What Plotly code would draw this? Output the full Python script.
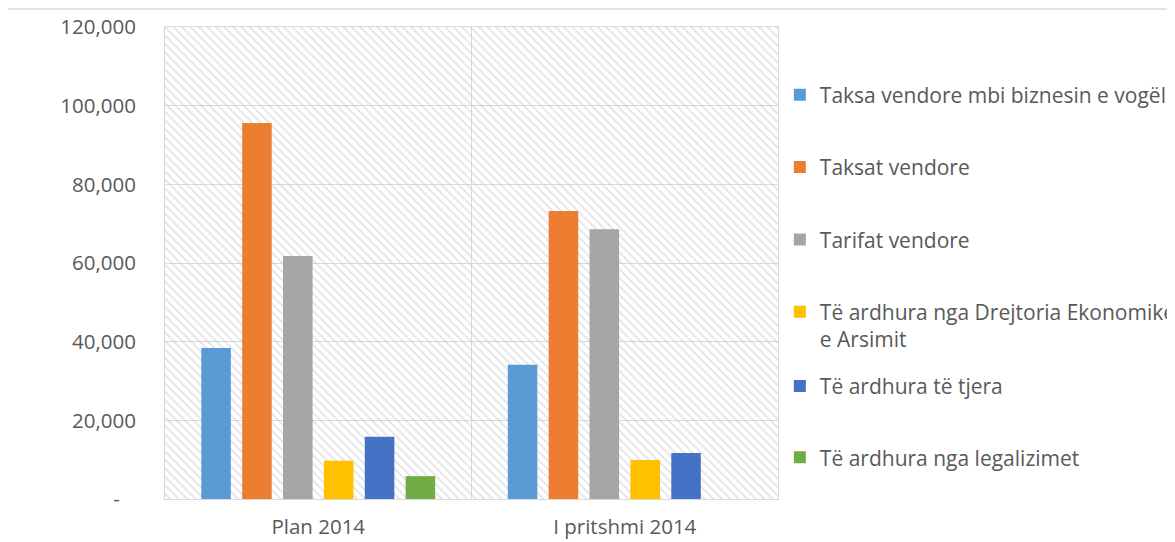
import plotly.graph_objects as go

# te dhenat
kategorite = ['Plan 2014', 'I pritshmi 2014']
seri_emrat = [
    'Taksa vendore mbi biznesin e vogël',
    'Taksat vendore',
    'Tarifat vendore',
    'Të ardhura nga Drejtoria Ekonomike<br>e Arsimit',
    'Të ardhura të tjera',
    'Të ardhura nga legalizimet',
]
taksa_biznes = [38400, 34100]
taksat_vendore = [95600, 73200]
tarifat_vendore = [61800, 68600]
drejtoria_arsimit = [9700, 9900]
te_tjera = [15800, 11700]
legalizimet = [5800, 0]
ngjyrat = ['#5B9BD5', '#ED7D31', '#A5A5A5', '#FFC000', '#4472C4', '#70AD47']

y_ticks = [0, 20000, 40000, 60000, 80000, 100000, 120000]
y_ticktext = ['-\u00a0\u00a0\u00a0', '20,000', '40,000', '60,000', '80,000', '100,000', '120,000']

seri = [taksa_biznes, taksat_vendore, tarifat_vendore, drejtoria_arsimit, te_tjera, legalizimet]
legjenda = ['legend', 'legend', 'legend', 'legend', 'legend2', 'legend2']

fig = go.Figure()

# sfondi me vija diagonale (ne boshtet baze, nen shtyllat)
fig.add_trace(go.Bar(
    x=[0.5], y=[1], width=[1], xaxis='x', yaxis='y', showlegend=False, hoverinfo='skip',
    marker=dict(color='rgba(0,0,0,0)', line=dict(width=0),
                pattern=dict(shape='\\', fgcolor='#c8c8c8', size=6, solidity=0.3, fillmode='overlay')),
))

for i, (emri, vlerat) in enumerate(zip(seri_emrat, seri)):
    fig.add_trace(go.Bar(
        x=kategorite, y=vlerat, name=emri, xaxis='x2', yaxis='y2',
        marker=dict(color=ngjyrat[i], line=dict(width=0)),
        legendgroup='g%d' % i, legend=legjenda[i],
    ))

gri = '#595959'
fonti = 'Open Sans, sans-serif'
fig.update_layout(
    width=1175, height=542,
    margin=dict(l=157, r=405, t=19, b=51, autoexpand=False),
    paper_bgcolor='white', plot_bgcolor='white',
    font=dict(family=fonti, size=20, color=gri),
    barmode='group', bargap=0.2, bargroupgap=0.277,
    xaxis=dict(range=[0, 1], visible=False, showgrid=False, fixedrange=True),
    yaxis=dict(range=[0, 1], visible=False, showgrid=False, fixedrange=True),
    xaxis2=dict(overlaying='x', anchor='y2', side='bottom', tickson='boundaries',
                showgrid=True, gridcolor='#d9d9d9', gridwidth=1,
                showline=True, linecolor='#d9d9d9', mirror=True, ticks='', ticklabelstandoff=9,
                tickfont=dict(size=20.5, color=gri)),
    yaxis2=dict(overlaying='y', anchor='x2', range=[0, 120000], tickvals=y_ticks, ticktext=y_ticktext,
                showgrid=True, gridcolor='#d9d9d9', gridwidth=1, zeroline=False,
                showline=True, linecolor='#d9d9d9', mirror=True, ticks='', ticklabelstandoff=24,
                tickfont=dict(size=20.5, color=gri)),
    legend=dict(x=1.003, y=0.899, xanchor='left', yanchor='top', valign='top',
                tracegroupgap=42, font=dict(size=21, color=gri), itemwidth=30,
                bgcolor='rgba(0,0,0,0)'),
    legend2=dict(x=1.003, y=0.282, xanchor='left', yanchor='top', valign='top',
                 tracegroupgap=41, font=dict(size=21, color=gri), itemwidth=30,
                 bgcolor='rgba(0,0,0,0)'),
    shapes=[dict(type='rect', xref='paper', yref='paper', x0=-0.259, x1=1.7, y0=-0.2, y1=1.038,
                 line=dict(color='#d9d9d9', width=1.5), fillcolor='rgba(0,0,0,0)', layer='below')],
)

fig.write_html('out.html')
